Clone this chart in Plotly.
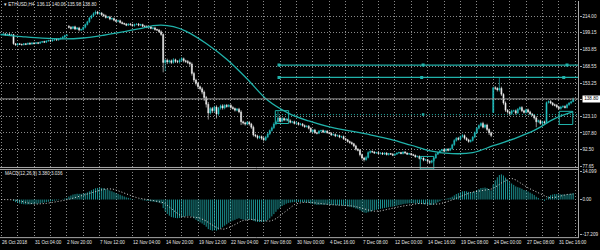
import plotly.graph_objects as go
import pandas as pd

# ---------------- data ----------------
closes = [
    197.5, 198.0, 197.0, 197.8, 196.8, 197.5, 189.0, 188.0, 189.0, 188.5,
    188.2, 189.0, 188.5, 189.5, 188.8, 189.8, 189.2, 190.0, 189.5, 190.5,
    191.0, 190.5, 191.5, 192.0, 191.5, 192.5, 193.0, 192.5, 193.5, 194.0,
    195.0, 196.5, 197.0, 204.0, 203.0, 204.5, 202.5, 203.5, 201.5, 202.0,
    204.0, 206.5, 209.0, 212.5, 214.5, 216.5, 218.0, 216.5, 217.0, 215.5,
    214.5, 213.0, 213.5, 211.5, 212.0, 210.5, 209.5, 210.0, 208.5, 207.5,
    207.0, 206.0, 207.0, 206.5, 205.5, 206.5, 207.0, 206.0, 206.5, 205.0,
    205.0, 204.0, 204.5, 203.0, 203.5, 202.0, 201.5, 200.0, 197.5, 172.0,
    174.0, 172.5, 173.5, 172.0, 174.5, 173.0, 172.5, 174.0, 175.5, 173.5,
    173.0, 172.0, 170.5, 162.0, 156.0, 153.0, 150.0, 148.0, 145.0, 140.0,
    134.0, 126.0, 130.0, 128.0, 131.5, 125.0, 130.5, 132.5, 130.5, 133.0,
    132.0, 133.0, 131.0, 130.0, 128.5, 129.5, 127.0, 118.0, 117.0, 116.0,
    117.5, 116.0, 113.0, 106.0, 105.0, 103.5, 104.5, 103.0, 101.5, 104.0,
    107.0, 110.0, 112.5, 116.0, 118.0, 121.5, 118.5, 121.0, 119.5, 120.5,
    119.0, 117.5, 118.0, 116.5, 117.0, 115.5, 116.0, 114.5, 113.5, 114.0,
    112.0, 109.0, 110.5, 108.0, 107.5, 109.5, 110.0, 108.5, 109.5, 108.0,
    107.5, 106.0, 106.5, 105.0, 105.5, 104.0, 104.5, 102.5, 101.5, 100.0,
    99.0, 98.0, 96.0, 93.0, 92.0, 88.0, 85.0, 83.5, 85.5, 90.0,
    91.0, 90.5, 89.5, 90.0, 89.0, 89.5, 88.5, 89.5, 88.0, 89.0,
    88.5, 87.5, 88.5, 89.5, 90.0, 89.0, 90.5, 89.5, 88.5, 89.0,
    88.0, 87.5, 86.0, 86.5, 84.5, 85.0, 83.0, 83.5, 82.0, 81.0,
    82.5, 85.0, 88.5, 90.0, 91.5, 92.5, 91.5, 93.0, 92.0, 93.5,
    97.0, 101.0, 103.0, 102.0, 104.5, 105.5, 103.0, 101.5, 100.0, 101.0,
    104.0, 108.0, 112.0, 114.5, 116.5, 113.0, 115.0, 111.0, 108.0, 105.5,
    149.0, 148.5, 147.0, 148.5, 143.0, 135.0, 128.5, 127.0, 125.5, 128.0,
    128.0, 126.0, 129.5, 131.0, 128.0, 126.5, 129.0, 127.0, 125.0, 124.0,
    121.5, 118.0, 119.0, 116.5, 118.0, 117.0, 135.5, 136.5, 135.0, 133.5,
    133.0, 131.5, 130.0, 131.5, 132.0, 131.0, 133.5, 135.0, 136.11, 138.80,
]
first_open = 197.2
gap_opens = {33: 205.0, 240: 126.5}
wick_up = [
    0.8, 0.6, 1.0, 0.5, 0.9, 0.6, 0.5, 0.7, 0.8, 0.6,
    0.7, 0.6, 0.8, 0.6, 0.9, 0.5, 0.8, 0.6, 0.7, 0.6,
    0.6, 0.8, 0.5, 0.7, 0.9, 0.6, 0.7, 0.8, 0.6, 0.9,
    1.2, 0.8, 0.6, 1.0, 1.2, 0.8, 1.0, 0.7, 1.0, 0.8,
    0.8, 1.0, 1.0, 1.2, 1.0, 1.3, 1.5, 1.0, 1.2, 1.0,
    1.0, 1.2, 0.8, 1.0, 0.9, 1.0, 0.8, 0.9, 1.0, 0.8,
    0.8, 0.9, 0.7, 1.0, 0.8, 0.9, 0.6, 1.0, 0.7, 0.8,
    0.9, 0.8, 1.0, 0.7, 0.9, 1.0, 0.8, 1.0, 1.2, 1.0,
    1.0, 1.5, 1.0, 1.2, 1.5, 1.0, 1.2, 1.5, 1.5, 1.0,
    1.0, 1.2, 1.0, 1.5, 1.5, 1.2, 1.5, 1.0, 1.5, 1.5,
    1.5, 2.0, 1.5, 1.5, 1.2, 1.5, 1.0, 1.2, 1.5, 1.0,
    1.2, 1.0, 1.0, 1.2, 1.0, 1.0, 1.2, 1.5, 1.0, 1.0,
    1.0, 1.2, 1.0, 1.5, 1.0, 1.2, 1.0, 1.0, 1.0, 1.2,
    1.0, 1.0, 1.2, 1.5, 1.5, 6.0, 1.5, 1.2, 1.0, 1.0,
    1.0, 1.2, 0.8, 1.0, 1.0, 0.8, 1.0, 0.8, 1.0, 0.8,
    1.0, 1.0, 0.8, 1.0, 0.8, 1.0, 0.8, 1.0, 0.8, 0.8,
    0.8, 1.0, 0.8, 0.8, 1.0, 0.8, 0.8, 1.0, 0.8, 0.8,
    0.8, 1.0, 0.8, 1.0, 1.0, 1.2, 1.0, 1.0, 1.5, 1.2,
    1.0, 0.8, 0.8, 0.6, 0.8, 0.6, 0.8, 0.6, 0.8, 0.6,
    0.6, 0.8, 0.6, 0.6, 0.8, 0.6, 0.6, 0.8, 0.6, 0.6,
    0.6, 0.8, 0.6, 0.6, 0.8, 0.6, 0.6, 0.8, 0.6, 0.8,
    0.8, 0.8, 1.0, 0.8, 0.8, 0.8, 1.0, 0.8, 1.0, 0.8,
    1.0, 1.2, 1.0, 1.2, 1.0, 1.5, 1.0, 1.0, 1.0, 1.0,
    1.0, 1.2, 1.0, 1.2, 1.0, 1.5, 1.0, 1.2, 1.0, 1.0,
    1.0, 1.5, 1.0, 10.2, 1.5, 1.0, 1.5, 1.0, 1.0, 1.0,
    1.0, 1.2, 1.0, 1.0, 1.2, 1.0, 1.0, 1.0, 1.0, 1.0,
    1.0, 1.5, 1.0, 1.0, 1.0, 1.0, 1.0, 1.0, 1.2, 1.0,
    1.0, 1.2, 1.0, 1.0, 1.0, 1.0, 1.0, 1.0, 1.0, 1.26,
]
wick_dn = [
    0.6, 0.8, 0.5, 0.8, 0.6, 0.7, 0.8, 0.6, 0.8, 0.5,
    0.8, 0.6, 0.7, 0.5, 0.8, 0.6, 0.7, 0.5, 0.8, 0.6,
    0.7, 0.6, 0.8, 0.6, 0.7, 0.5, 0.8, 0.6, 0.7, 0.6,
    0.8, 0.6, 0.8, 1.0, 1.2, 0.8, 1.0, 0.8, 1.2, 0.8,
    0.8, 1.0, 0.8, 1.0, 1.0, 1.0, 1.2, 1.0, 1.0, 1.2,
    1.0, 1.0, 0.8, 1.0, 0.9, 1.0, 0.8, 0.9, 1.0, 0.8,
    0.8, 0.9, 0.7, 1.0, 0.8, 0.9, 0.6, 1.0, 0.7, 0.8,
    0.9, 0.8, 1.0, 0.7, 0.9, 1.0, 0.8, 1.0, 1.2, 9.0,
    8.0, 2.0, 1.5, 1.5, 1.2, 1.5, 1.2, 1.5, 1.5, 1.5,
    1.5, 1.5, 2.0, 2.0, 2.0, 2.0, 2.0, 1.5, 2.0, 3.0,
    3.0, 6.0, 1.5, 2.0, 1.5, 4.0, 1.5, 1.5, 1.5, 1.2,
    1.2, 1.0, 1.2, 1.0, 1.2, 1.0, 1.2, 3.0, 1.5, 1.5,
    1.2, 1.5, 1.5, 1.5, 1.2, 1.5, 1.2, 1.5, 1.5, 1.0,
    1.0, 1.2, 1.0, 1.0, 1.2, 1.0, 1.2, 1.0, 1.0, 1.2,
    1.0, 1.0, 1.0, 1.0, 0.8, 1.0, 1.0, 1.0, 1.0, 0.8,
    1.0, 1.2, 1.0, 1.0, 1.0, 0.8, 1.0, 0.8, 1.0, 0.8,
    0.8, 1.0, 0.8, 1.0, 0.8, 1.0, 0.8, 1.0, 1.0, 1.0,
    1.0, 1.0, 1.2, 1.2, 1.0, 1.5, 1.5, 1.8, 1.0, 1.0,
    1.0, 0.8, 0.8, 0.8, 0.6, 0.8, 0.6, 0.8, 0.6, 0.8,
    0.6, 0.8, 0.6, 0.6, 0.8, 0.6, 0.8, 0.6, 0.6, 0.8,
    0.8, 0.6, 0.8, 0.6, 0.8, 0.6, 1.0, 0.8, 1.5, 1.5,
    1.0, 0.8, 0.8, 0.8, 1.0, 0.8, 1.0, 0.8, 1.0, 0.8,
    1.0, 1.0, 1.2, 1.0, 1.2, 1.0, 1.2, 1.0, 1.2, 1.0,
    1.0, 1.0, 1.2, 1.0, 1.2, 1.0, 1.2, 1.5, 2.0, 1.5,
    0.5, 1.5, 1.5, 1.5, 1.5, 1.5, 1.5, 1.5, 1.5, 1.5,
    1.0, 1.5, 1.0, 1.0, 1.2, 1.0, 1.0, 1.2, 1.0, 1.0,
    1.5, 5.0, 1.0, 1.2, 1.0, 1.0, 0.5, 1.0, 1.0, 1.2,
    1.0, 1.2, 1.0, 1.0, 1.0, 1.0, 1.0, 1.0, 1.0, 0.13,
]

# 50-period moving average, read at sampled bars
ma_bars = [0, 10, 20, 30, 40, 50, 60, 70, 74, 78, 84, 90, 100, 110, 120, 130,
           140, 150, 160, 170, 180, 190, 200, 210, 220, 230, 240, 250, 260, 270, 279]
ma_values = [197.4, 195.6, 194.1, 193.5, 194.3, 196.8, 200.1, 203.7, 205.5, 206.1, 204.6,
             200.6, 189.3, 174.9, 156.9, 137.5, 125.9, 118.7, 113.3, 109.7, 106.1,
             102.0, 96.6, 91.2, 88.95, 89.85, 96.15, 102.45, 110.1, 120.9, 127.2]

price_ticks = [214.00, 199.15, 183.85, 168.55, 153.25, 138.40, 123.10, 107.80, 92.50, 77.65]
price_tick_text = ["214.00", "199.15", "183.85", "168.55", "153.25", "", "123.10", "107.80", "92.50", "77.65"]
macd_ticks = [14.099, 0.0, -17.209]
macd_tick_text = ["14.099", "0.00", "-17.209"]
time_label_bars = [0, 16, 32, 48, 64, 80, 96, 112, 128, 144, 160, 176, 192, 208, 224, 240, 256, 272]
time_labels = ["26 Oct 2018", "31 Oct 04:00", "2 Nov 20:00", "7 Nov 12:00", "12 Nov 04:00",
               "14 Nov 20:00", "19 Nov 12:00", "22 Nov 04:00", "27 Nov 08:00", "30 Nov 00:00",
               "4 Dec 16:00", "7 Dec 08:00", "12 Dec 00:00", "14 Dec 16:00", "19 Dec 08:00",
               "24 Dec 00:00", "27 Dec 08:00", "31 Dec 16:00"]
last_price = 138.80
title_text = "\u25be ETHUSD,H4  136.11 140.06 135.98 138.80"
macd_text = "MACD(12,26,9) 3.380 3.036"

level_prices = [169.6, 158.4]
level_start_bar = 135.5
level_anchor_bars = [[135.5, 205.8, 276.0], [135.5, 205.1, 274.4]]
dotted_level = 124.5
dotted_start_bar = 134.0
dotted_anchor_bars = [205.8]
rect_boxes = [(133.7, 140.2, 116.4, 128.1), (272.2, 278.8, 115.5, 127.5)]
low_box = (204.4, 211.0, 86.4)

# ---------------- derived ----------------
n = len(closes)
idx = list(range(n))
opens = []
for i in range(n):
    if i == 0:
        opens.append(first_open)
    elif i in gap_opens:
        opens.append(gap_opens[i])
    else:
        opens.append(closes[i - 1])
highs = [max(o, c) + w for o, c, w in zip(opens, closes, wick_up)]
lows = [min(o, c) - w for o, c, w in zip(opens, closes, wick_dn)]

s = pd.Series(closes)
macd = s.ewm(span=12, adjust=False).mean() - s.ewm(span=26, adjust=False).mean()
signal = macd.rolling(9, min_periods=1).mean()

# histogram drawn as thin vertical strokes, one per bar
hist_x, hist_y = [], []
for i, v in zip(idx, macd):
    hist_x += [i, i, None]
    hist_y += [0.0, float(v), None]

# ---------------- styling ----------------
W, H = 600, 250
BG = "#000000"
BULL = "#22c3c3"
BEAR = "#f2f2f2"
TEAL = "#20b2aa"
HIST = "#22b8b8"
GRID = "#8a8a8a"
AXIS = "#a8a8a8"
TXT = "#e6e6e6"
FONT = "Liberation Sans"
FS = 4.6

X_RIGHT = 578.5
XD = [0, X_RIGHT / W]
Y1 = [1 - 168 / H, 1.0]
Y1_RANGE = [76.8, 228.0]
Y2 = [1 - 239.5 / H, 1 - 170.5 / H]
Y2_RANGE = [-18.91, 14.93]
X_RANGE = [-0.6, 281.6]


def py_paper(price):
    return Y1[0] + (price - Y1_RANGE[0]) / (Y1_RANGE[1] - Y1_RANGE[0]) * (Y1[1] - Y1[0])


fig = go.Figure()
fig.add_trace(go.Candlestick(
    x=idx, open=opens, high=highs, low=lows, close=closes,
    xaxis="x", yaxis="y", whiskerwidth=0,
    increasing=dict(line=dict(color=BULL, width=0.6), fillcolor=BULL),
    decreasing=dict(line=dict(color=BEAR, width=0.6), fillcolor=BEAR),
    showlegend=False, hoverinfo="skip"))
fig.add_trace(go.Scatter(x=ma_bars, y=ma_values, mode="lines", xaxis="x", yaxis="y",
                         line=dict(color=TEAL, width=1.3, shape="spline"),
                         showlegend=False, hoverinfo="skip"))

# horizontal level lines with anchor squares
for lvl, anchors in zip(level_prices, level_anchor_bars):
    fig.add_trace(go.Scatter(x=[level_start_bar, X_RANGE[1]], y=[lvl, lvl], mode="lines",
                             xaxis="x", yaxis="y", line=dict(color=TEAL, width=1.4),
                             showlegend=False, hoverinfo="skip"))
    fig.add_trace(go.Scatter(x=anchors, y=[lvl] * len(anchors), mode="markers",
                             xaxis="x", yaxis="y",
                             marker=dict(symbol="square", size=3, color=TEAL),
                             showlegend=False, hoverinfo="skip"))
fig.add_trace(go.Scatter(x=[dotted_start_bar, X_RANGE[1]], y=[dotted_level, dotted_level],
                         mode="lines", xaxis="x", yaxis="y",
                         line=dict(color=TEAL, width=1, dash="1px,2px"),
                         showlegend=False, hoverinfo="skip"))
fig.add_trace(go.Scatter(x=dotted_anchor_bars, y=[dotted_level] * len(dotted_anchor_bars),
                         mode="markers", xaxis="x", yaxis="y",
                         marker=dict(symbol="square", size=2.5, color=TEAL),
                         showlegend=False, hoverinfo="skip"))

# MACD
fig.add_trace(go.Scatter(x=hist_x, y=hist_y, mode="lines", xaxis="x2", yaxis="y2",
                         line=dict(color=HIST, width=0.8), connectgaps=False,
                         showlegend=False, hoverinfo="skip"))
fig.add_trace(go.Scatter(x=idx, y=signal, mode="lines", xaxis="x2", yaxis="y2",
                         line=dict(color="#d8d8d8", width=1, dash="1px,2px"),
                         showlegend=False, hoverinfo="skip"))

shapes = []
for x0, x1, y0, y1 in rect_boxes:
    shapes.append(dict(type="rect", xref="x", yref="y", x0=x0, x1=x1, y0=y0, y1=y1,
                       line=dict(color=TEAL, width=1), fillcolor="rgba(0,0,0,0)"))
shapes.append(dict(type="rect", xref="x", yref="paper", x0=low_box[0], x1=low_box[1],
                   y0=1 - 170 / H, y1=py_paper(low_box[2]),
                   line=dict(color=TEAL, width=1), fillcolor="rgba(0,0,0,0)"))
# bid line
shapes.append(dict(type="line", xref="paper", yref="y", x0=0, x1=XD[1], y0=last_price, y1=last_price,
                   line=dict(color="#9a9a9a", width=1)))
# frame lines
for yy in [168.5, 170.5, 239.5]:
    shapes.append(dict(type="line", xref="paper", yref="paper", x0=0, x1=(X_RIGHT + 0.5) / W,
                       y0=1 - yy / H, y1=1 - yy / H, line=dict(color=AXIS, width=1)))
shapes.append(dict(type="line", xref="paper", yref="paper", x0=X_RIGHT / W, x1=X_RIGHT / W,
                   y0=1 - 239.5 / H, y1=1, line=dict(color=AXIS, width=1)))

annotations = []
for b, t in zip(time_label_bars, time_labels):
    annotations.append(dict(x=b, xref="x", y=1 - 244 / H, yref="paper", text=t, showarrow=False,
                            xanchor="left", yanchor="middle", xshift=-1.5,
                            font=dict(family=FONT, size=FS, color=TXT)))
annotations.append(dict(x=2 / W, xref="paper", y=1 - 4 / H, yref="paper", text=title_text,
                        showarrow=False, xanchor="left", yanchor="middle",
                        font=dict(family=FONT, size=FS, color=TXT)))
annotations.append(dict(x=2.5 / W, xref="paper", y=1 - 174.5 / H, yref="paper", text=macd_text,
                        showarrow=False, xanchor="left", yanchor="middle",
                        font=dict(family=FONT, size=FS, color=TXT)))
annotations.append(dict(x=581.5 / W, xref="paper", y=last_price, yref="y", text=f"{last_price:.2f}",
                        showarrow=False, xanchor="left", yanchor="middle", bgcolor="#ffffff",
                        width=17, height=5.5, borderpad=0,
                        font=dict(family=FONT, size=FS, color="#000000")))

axis_common = dict(showgrid=True, gridcolor=GRID, griddash="1px,2px", gridwidth=1,
                   zeroline=False, showline=False)
fig.update_layout(
    width=W, height=H, margin=dict(l=0, r=0, t=0, b=0),
    paper_bgcolor=BG, plot_bgcolor=BG, showlegend=False, hovermode=False,
    xaxis=dict(domain=XD, range=X_RANGE, anchor="y", showticklabels=False, tick0=0, dtick=8,
               ticks="", rangeslider=dict(visible=False), **axis_common),
    xaxis2=dict(domain=XD, range=X_RANGE, anchor="y2", matches="x", showticklabels=False,
                tick0=0, dtick=8, ticks="", **axis_common),
    yaxis=dict(domain=Y1, range=Y1_RANGE, side="right", anchor="x", tickmode="array",
               tickvals=price_ticks, ticktext=price_tick_text, ticks="outside", ticklen=2,
               tickcolor=AXIS, tickfont=dict(family=FONT, size=FS, color=TXT), **axis_common),
    yaxis2=dict(domain=Y2, range=Y2_RANGE, side="right", anchor="x2", tickmode="array",
                tickvals=macd_ticks, ticktext=macd_tick_text, ticks="outside", ticklen=2,
                tickcolor=AXIS, tickfont=dict(family=FONT, size=FS, color=TXT),
                showgrid=False, zeroline=False, showline=False),
    shapes=shapes, annotations=annotations,
)

fig.write_html("out.html")
